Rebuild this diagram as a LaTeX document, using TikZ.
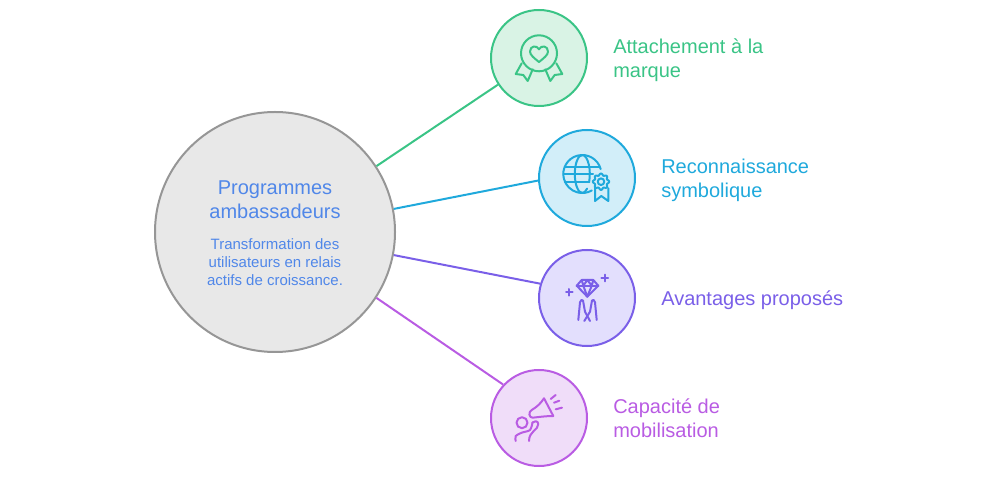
\documentclass[tikz,border=0pt]{standalone}
\usepackage{fontspec}
\setmainfont{Liberation Sans}
\definecolor{line1}{HTML}{3AC486}
\definecolor{fill1}{HTML}{D9F3E5}
\definecolor{line2}{HTML}{1FA9DC}
\definecolor{fill2}{HTML}{D2EEF9}
\definecolor{line3}{HTML}{7A5FE8}
\definecolor{fill3}{HTML}{E3DFFD}
\definecolor{line4}{HTML}{B95CE3}
\definecolor{fill4}{HTML}{F0DDF9}
\definecolor{hubtext}{HTML}{5087E8}
\tikzset{
  bubble/.style={draw, circle, line width=1.5pt, minimum size=72pt, inner sep=0pt},
  hubnode/.style={draw=black!41, fill=black!9, circle, line width=1.5pt, minimum size=180pt, inner sep=0pt},
  link/.style={line width=1.5pt},
  icon/.style={line width=1.5pt, line join=round, line cap=round},
  tag/.style={anchor=west, align=left, inner sep=0pt, font=\fontsize{15}{18}\selectfont},
}
\begin{document}
\begin{tikzpicture}[x=0.75pt, y=0.75pt]
\useasboundingbox (0,0) rectangle (1006,482);
\node[hubnode](hub) at (275,250) {};
\node[align=center, inner sep=0pt, text=hubtext, font=\fontsize{15}{18}\selectfont](title) at (275,282) {Programmes\\ambassadeurs};
\node[align=center, inner sep=0pt, text=hubtext, font=\fontsize{11.25}{13.5}\selectfont](desc) at (275,220) {Transformation des\\utilisateurs en relais\\actifs de croissance.};
\foreach \i/\x/\y in {1/539/424, 2/587/304, 3/587/184, 4/539/64}{  \node[bubble, draw=line\i, fill=fill\i](c\i) at (\x,\y) {};}
\draw[link, line1] (hub.33.6) -- (c1.213);
\draw[link, line2] (hub.11.4) -- (c2.183.6);
\draw[link, line3] (hub.-11) -- (c3.163.7);
\draw[link, line4] (hub.-33.2) -- (c4.137.5);
\node[tag, text=line1](t1) at (613,422) {Attachement à la\\marque};
\node[tag, text=line2](t2) at (661,302) {Reconnaissance\\symbolique};
\node[tag, text=line3](t3) at (661,182) {Avantages proposés};
\node[tag, text=line4](t4) at (613,64) {Capacité de\\mobilisation};
% rosette
\begin{scope}[shift={(c1)}, icon, line1]
\draw (0,4.7) circle (18);
\draw (0,-4) .. controls (-5,0) and (-9,3) .. (-9,6.5) .. controls (-9,12.5) and (-2,13) .. (0,8.7) .. controls (2,13) and (9,12.5) .. (9,6.5) .. controls (9,3) and (5,0) .. (0,-4) -- cycle;
\draw (-17.3,-5.3) -- (-23.3,-16) -- (-15.7,-17) -- (-11.3,-23) -- (-6.3,-11.3);
\draw (17.3,-5.3) -- (23.3,-16) -- (15.7,-17) -- (11.3,-23) -- (6.3,-11.3);
\end{scope}
% globe and badge
\begin{scope}[shift={(c2)}, icon, line2]
\draw (13.65,8.9) arc (15:300:19);
\draw (-4.7,23) arc (90:270:7.5 and 19);
\draw (-4.7,23) arc (90:-25:7.5 and 19);
\draw (-4.7,-15) arc (-90:-50:7.5 and 19);
\draw (-22.2,11.3) -- (12.8,11.3);
\draw (-23.7,4) -- (6,4);
\draw (-22.1,-3.7) -- (2.3,-3.7);
\draw plot[domain=0:360, samples=73, smooth] ({14+(7.3+0.9*cos(8*\x))*cos(\x)}, {-3.7+(7.3+0.9*cos(8*\x))*sin(\x)});
\draw (14,-3.7) circle (3.3);
\draw (8,-10.3) -- (8,-23) -- (14.3,-18) -- (21.3,-23) -- (21.3,-10.3);
\end{scope}
% diamond and hands
\begin{scope}[shift={(c3)}, icon, line3]
\draw (-5.3,18) -- (6.3,18) -- (11.3,12.3) -- (0.3,1.3) -- (-10.3,12.3) -- cycle;
\draw (-10.3,12.3) -- (11.3,12.3);
\draw (-3.7,12.3) -- (0.3,1.3) -- (4.7,12.3);
\draw (-5.3,18) -- (-3.7,12.3) -- (0.3,18) -- (4.7,12.3) -- (6.3,18);
\draw (14.4,20) -- (21,20) (17.7,16.7) -- (17.7,23.3);
\draw (-21,5.7) -- (-14.4,5.7) (-17.7,2.4) -- (-17.7,9);
\draw (-8.7,-22) -- (-7,-4.3) .. controls (-6.7,-2) and (-4.6,-1) .. (-4,-2.5) -- (-2,-13.7) -- (3,-23);
\draw (9.7,-22) -- (8,-4.3) .. controls (7.7,-2) and (5.6,-1) .. (5,-2.5) -- (3,-13.7) -- (-2.7,-23);
\end{scope}
% megaphone
\begin{scope}[shift={(c4)}, icon, line4]
\draw (-7.3,8) .. controls (-2,11) and (2,15) .. (5,19.7) -- (14.3,2) .. controls (7,2) and (0,1) .. (-6.3,0.3) .. controls (-10,0) and (-11,6) .. (-7.3,8) -- cycle;
\draw (11.7,19) -- (16.7,23);
\draw (15,15.3) -- (20.3,17.3);
\draw (16.7,8.7) -- (23,10.3);
\draw (-17,-4.7) circle (5.5);
\draw plot[smooth] coordinates {(-23.3,-23) (-23.3,-18) (-17.3,-14.7) (-9,-12) (-6.5,-4.5)};
\draw (-6.5,-4.5) .. controls (-5,-2.5) and (-1,-2.5) .. (-0.7,-6) .. controls (-0.5,-12) and (-10,-13) .. (-10,-23);
\end{scope}
 \end{tikzpicture}
\end{document}
